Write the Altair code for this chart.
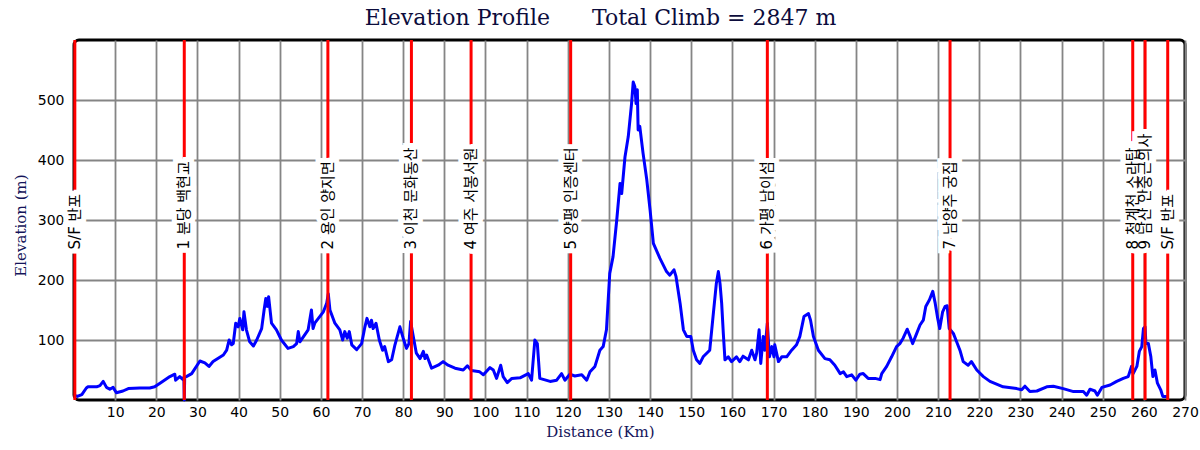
import altair as alt
import pandas as pd

km = [0.0, 0.8, 1.9, 3.0, 3.4, 5.5, 6.3, 7.1, 7.9, 8.7, 9.5, 10.3, 11.9, 13.2, 16.0, 18.4, 19.6,
      20.9, 23.3, 24.5, 24.7, 25.7, 26.5, 26.7, 26.8, 26.9, 27.3, 28.6, 30.6, 31.8, 32.8, 33.8,
      36.3, 37.1, 37.7, 38.3, 38.7, 39.3, 39.9, 40.3, 41.0, 41.3, 41.9, 42.7, 43.6, 44.4, 45.6,
      46.2, 46.6, 47.0, 47.3, 48.0, 49.2, 50.4, 52.0, 53.3, 54.1, 54.5, 54.9, 56.9, 57.7, 58.1,
      58.5, 60.6, 61.4, 61.8, 62.2, 63.4, 64.6, 65.3, 65.8, 66.4, 66.9, 67.5, 68.7, 69.9, 70.7,
      71.2, 71.9, 72.3, 72.7, 73.4, 74.2, 75.0, 75.5, 76.4, 77.2, 78.0, 79.2, 80.0, 80.8, 81.4,
      81.8, 82.4, 83.2, 84.1, 84.9, 85.3, 85.7, 86.9, 88.5, 89.7, 90.9, 92.6, 94.6, 95.6, 96.6,
      98.6, 99.5, 101.1, 101.9, 102.7, 103.7, 104.3, 105.3, 106.4, 108.4, 110.4, 111.2, 112.0,
      112.6, 113.2, 115.7, 117.3, 118.5, 119.3, 120.5, 121.7, 123.4, 124.6, 125.4, 126.6, 127.8,
      128.6, 129.4, 130.2, 131.0, 131.9, 132.7, 133.1, 133.9, 134.7, 135.5, 135.9, 136.3, 136.6,
      136.9, 137.1, 137.5, 138.3, 139.2, 140.0, 140.8, 142.4, 144.0, 144.8, 145.8, 146.3, 147.3,
      148.1, 148.9, 149.9, 150.5, 151.3, 152.1, 152.9, 154.5, 155.3, 156.1, 156.6, 157.0, 157.4,
      157.8, 158.2, 159.0, 159.8, 161.0, 161.8, 162.6, 163.9, 164.7, 165.5, 165.9, 166.5, 166.9,
      167.5, 167.9, 168.5, 169.0, 169.6, 170.1, 170.3, 171.2, 172.0, 173.2, 174.4, 175.6, 176.4,
      177.4, 178.5, 179.0, 179.7, 180.9, 182.5, 183.7, 184.9, 186.2, 187.0, 187.8, 189.0, 190.0,
      191.0, 191.8, 193.0, 194.7, 195.9, 196.3, 197.5, 198.7, 199.9, 200.7, 201.5, 202.5, 203.2,
      203.8, 204.8, 205.6, 206.4, 207.0, 207.9, 208.7, 209.3, 209.9, 210.4, 211.1, 211.7, 212.2,
      212.7, 213.7, 214.5, 215.3, 216.1, 217.3, 218.1, 219.4, 221.0, 222.6, 225.8, 229.1, 230.3,
      231.1, 232.3, 234.0, 236.4, 238.0, 240.4, 242.9, 245.3, 246.1, 246.9, 248.1, 248.7, 249.8,
      251.8, 253.4, 255.0, 256.2, 257.0, 257.4, 258.3, 258.9, 259.5, 259.9, 260.3, 260.5, 261.1,
      261.7, 262.2, 262.7, 263.3, 264.1, 264.6, 265.6]

elev = [8, 6, 9, 20, 22, 22, 24, 31, 21, 18, 21, 12, 15, 19, 20, 20, 22,
        28, 39, 43, 33, 39, 34, 38, 0, 38, 39, 44, 65, 62, 56, 64,
        75, 83, 100, 92, 94, 128, 122, 136, 117, 147, 117, 97, 90, 100, 119,
        150, 169, 156, 172, 128, 117, 100, 86, 89, 94, 114, 97, 117, 150, 119,
        128, 147, 161, 177, 150, 128, 117, 100, 114, 103, 114, 92, 84, 94, 122,
        136, 122, 133, 119, 128, 100, 83, 89, 64, 67, 92, 122, 103, 86, 94,
        131, 108, 78, 69, 81, 69, 75, 53, 58, 64, 58, 53, 50, 57, 49,
        47, 42, 54, 50, 36, 58, 39, 29, 36, 37, 44, 33, 100,
        94, 36, 31, 33, 44, 33, 43, 40, 42, 33, 47, 56, 83,
        89, 117, 211, 239, 300, 361, 344, 405, 439, 494, 530, 522, 494,
        517, 450, 456, 411, 367, 317, 261, 236, 214, 208, 217, 206, 161,
        117, 106, 106, 83, 67, 61, 72, 83, 139, 194, 214, 194, 161,
        111, 67, 72, 64, 72, 64, 73, 67, 83, 67, 78, 117, 61,
        106, 83, 128, 72, 89, 72, 92, 64, 72, 72, 83, 92, 106,
        139, 144, 133, 106, 83, 69, 67, 58, 44, 47, 39, 42, 33,
        43, 44, 36, 36, 34, 44, 56, 72, 89, 94, 103, 118, 106,
        94, 111, 125, 133, 156, 167, 181, 161, 136, 119, 147, 156, 157,
        119, 111, 97, 83, 64, 58, 64, 50, 39, 31, 22, 19, 17,
        23, 14, 15, 22, 23, 19, 14, 14, 8, 18, 15, 8, 21,
        25, 31, 36, 39, 56, 44, 56, 81, 89, 119, 122, 94, 94,
        72, 39, 50, 28, 17, 6, 6]

cp_km = [0.2, 26.8, 61.7, 82.0, 96.5, 120.7, 168.5, 212.9, 257.3, 260.3, 265.8]
cp_label = ["S/F 반포", "1 분당 백현교", "2 용인 양지면", "3 이천 문화동산", "4 여주 서봉서원",
            "5 양평 인증센터", "6 가평 남이섬", "7 남양주 궁집", "8 청계천 소라탑",
            "9 남산 안중근의사", "S/F 반포"]
label_elev = 251

x_ticks = list(range(10, 280, 10))
y_ticks = [100, 200, 300, 400, 500]

profile = pd.DataFrame({"km": km, "elev": elev})
cps = pd.DataFrame({"km": cp_km, "label": cp_label, "y": [label_elev] * len(cp_km)})

NAVY = "#14145a"
GRID = "#858585"
xs = alt.Scale(domain=[0, 270], nice=False, zero=False)
ys = alt.Scale(domain=[0, 600], nice=False)

x_axis = alt.Axis(values=x_ticks, title="Distance (Km)", grid=True, ticks=False, domain=False,
                  gridColor=GRID, gridWidth=1.8, gridOpacity=1,
                  labelFont="DejaVu Sans", labelFontSize=14, labelColor="black", labelPadding=5,
                  titleFont="DejaVu Serif", titleFontSize=15, titleFontWeight="normal",
                  titleColor=NAVY, titleX=526, titleY=31, titleBaseline="middle",
                  titleAlign="center", labelFlush=False)
y_axis = alt.Axis(values=y_ticks, title="Elevation (m)", grid=True, ticks=False, domain=False,
                  gridColor=GRID, gridWidth=1.8, gridOpacity=1,
                  labelFont="DejaVu Sans", labelFontSize=14, labelColor="black", labelPadding=10,
                  titleFont="DejaVu Serif", titleFontSize=15, titleFontWeight="normal",
                  titleColor=NAVY, titleX=-54, titleY=185, titleAngle=270,
                  titleBaseline="middle", titleAlign="center")

line = alt.Chart(profile).mark_line(color="#0000ff", strokeWidth=3, strokeJoin="round").encode(
    x=alt.X("km:Q", scale=xs, axis=x_axis),
    y=alt.Y("elev:Q", scale=ys, axis=y_axis),
    order="km:Q",
)

rules = alt.Chart(cps).mark_rule(color="#ff0000", strokeWidth=3).encode(
    x=alt.X("km:Q", scale=xs),
)

LABEL_FONT = "DejaVu Sans, Noto Sans CJK KR"
LABEL_SIZE = 15

halo = alt.Chart(cps).mark_text(
    angle=270, align="left", baseline="middle", font=LABEL_FONT,
    fontSize=LABEL_SIZE, fill="white", stroke="white", strokeWidth=10, strokeJoin="miter",
).encode(
    x=alt.X("km:Q", scale=xs),
    y=alt.Y("y:Q", scale=ys),
    text="label:N",
)

labels = alt.Chart(cps).mark_text(
    angle=270, align="left", baseline="middle", font=LABEL_FONT,
    fontSize=LABEL_SIZE, color="black",
).encode(
    x=alt.X("km:Q", scale=xs),
    y=alt.Y("y:Q", scale=ys),
    text="label:N",
)

NB = "\u00a0"
title = alt.TitleParams(
    "Elevation Profile" + NB * 6 + "Total Climb = 2847 m",
    font="DejaVu Serif", fontSize=22, fontWeight="normal", color="#0c0c3c",
    anchor="middle", dx=-29, offset=9,
)

chart = alt.layer(line, rules, halo, labels).properties(
    width=1111, height=360, title=title, background="white",
    padding={"left": 74, "top": 40, "right": 15, "bottom": 50},
    autosize=alt.AutoSizeParams(type="none"),
).configure_view(
    stroke="black", strokeWidth=3, cornerRadius=5,
)

chart.save("out.html", embed_options={"renderer": "svg", "actions": False})
